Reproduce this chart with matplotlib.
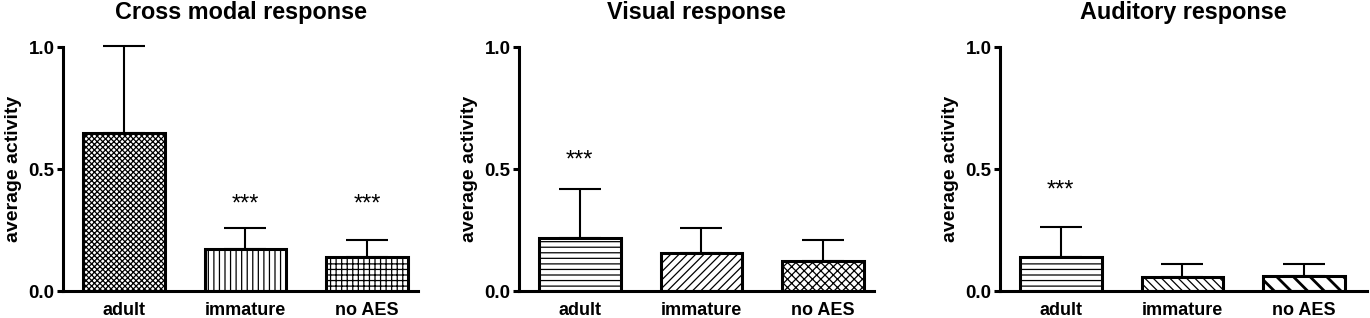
import numpy as np
import matplotlib
matplotlib.use("Agg")
from matplotlib import pyplot as plt

plt.rcParams['font.family'] = ['Liberation Sans', 'DejaVu Sans']
plt.rcParams['hatch.linewidth'] = 0.9

groups = ['adult', 'immature', 'no AES']
titles = ['Cross modal response', 'Visual response', 'Auditory response']

cross_mean = [0.649, 0.171, 0.139]
cross_err = [0.355, 0.088, 0.070]
visual_mean = [0.216, 0.154, 0.124]
visual_err = [0.202, 0.105, 0.085]
audit_mean = [0.141, 0.059, 0.061]
audit_err = [0.123, 0.050, 0.050]

# significance marks: (bar index, y position)
cross_stars = [(1, 0.355), (2, 0.355)]
visual_stars = [(0, 0.535)]
audit_stars = [(0, 0.413)]

hatches = [['xxxxxx', '|||', '+++'],
           ['---', '////', 'xxxx'],
           ['---', '\\\\\\\\', '\\\\']]

means = [cross_mean, visual_mean, audit_mean]
errs = [cross_err, visual_err, audit_err]
stars = [cross_stars, visual_stars, audit_stars]

W, H = 1370, 318
fig = plt.figure(figsize=(W / 100, H / 100), dpi=100)

# axes extents in pixels (left, right)
spans = [(63, 418), (519, 874), (1000, 1367)]
x = np.arange(3)

for k in range(3):
    l, r = spans[k]
    ax = fig.add_axes([l / W, (H - 291) / H, (r - l) / W, 244 / H])
    bars = ax.bar(x, means[k], width=0.67, color='white', edgecolor='black',
                  linewidth=2.2, zorder=2)
    for b, h in zip(bars, hatches[k]):
        b.set_hatch(h)
    if k == 2 and hasattr(bars[2], 'set_hatch_linewidth'):
        bars[2].set_hatch_linewidth(2.0)
    eb = ax.errorbar(x, means[k], yerr=[np.zeros(3), errs[k]], fmt='none',
                     ecolor='black', elinewidth=1.5, capsize=15, capthick=1.5,
                     zorder=1)
    for art in eb.lines[1] + eb.lines[2]:
        art.set_clip_on(False)
    for i, y in stars[k]:
        ax.text(i, y, '***', ha='center', va='center', fontsize=17)

    ax.set_ylim(0, 1.0)
    ax.set_xlim(-0.5, -0.5 + (r - l) / 121.6)
    ax.set_yticks([0, 0.5, 1.0])
    ax.set_yticklabels(['0.0', '0.5', '1.0'], fontweight='bold', fontsize=13.5)
    ax.set_xticks(x)
    ax.set_xticklabels(groups, fontweight='bold', fontsize=13)
    ax.tick_params(axis='x', length=0, pad=8)
    ax.tick_params(axis='y', length=4, width=2.2, pad=2)
    for s in ['top', 'right']:
        ax.spines[s].set_visible(False)
    for s in ['left', 'bottom']:
        ax.spines[s].set_linewidth(2.2)
    ax.set_ylabel('average activity', fontweight='bold', fontsize=14, labelpad=5)
    ax.set_title(titles[k], fontweight='bold', fontsize=16.8, pad=20)

fig.savefig('out.png', dpi=100)
